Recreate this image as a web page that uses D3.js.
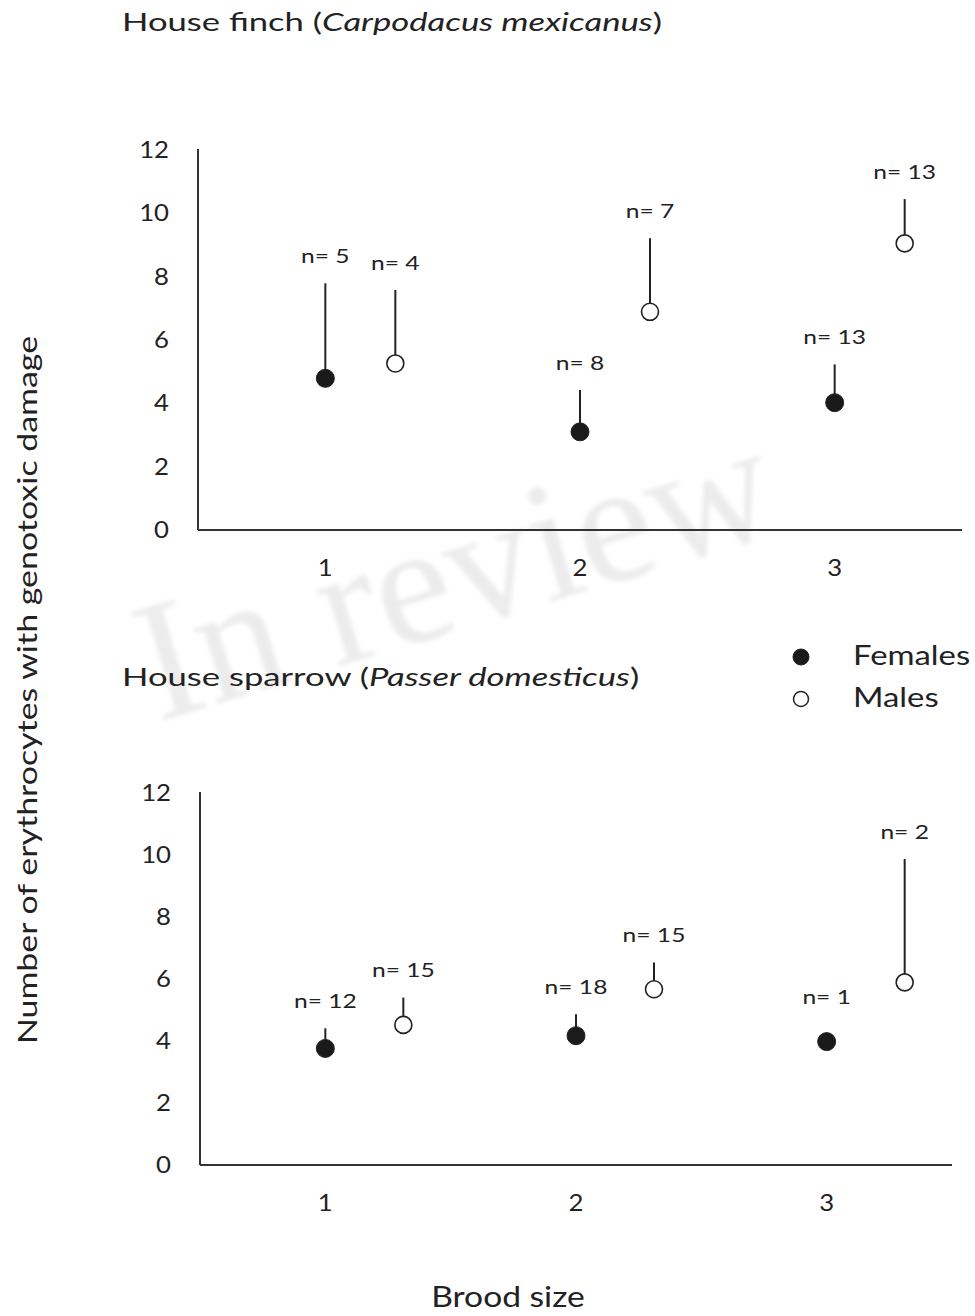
<!DOCTYPE html>
<html>
<head>
<meta charset="utf-8">
<script src="https://cdn.jsdelivr.net/npm/d3@7"></script>
<style>
  html, body { margin: 0; padding: 0; background: #fff; }
  svg { display: block; }
  text { font-family: Lato, "Open Sans", sans-serif; fill: #222; }
</style>
</head>
<body>
<div id="chart"></div>
<script>
// Brood size categories shared by both species
const broodSizes = ["1", "2", "3"];
const yTicks = [0, 2, 4, 6, 8, 10, 12];

// House finch: means and upper whisker ends, by brood size
const finchFemaleMean = [4.79, 3.10, 4.02];
const finchFemaleUpper = [7.79, 4.42, 5.23];
const finchFemaleN = [5, 8, 13];
const finchMaleMean = [5.26, 6.89, 9.05];
const finchMaleUpper = [7.58, 9.21, 10.45];
const finchMaleN = [4, 7, 13];

// House sparrow: means and upper whisker ends, by brood size
const sparrowFemaleMean = [3.76, 4.17, 3.98];
const sparrowFemaleUpper = [4.41, 4.86, 3.98];
const sparrowFemaleN = [12, 18, 1];
const sparrowMaleMean = [4.52, 5.67, 5.89];
const sparrowMaleUpper = [5.40, 6.53, 9.87];
const sparrowMaleN = [15, 15, 2];

const W = 975, H = 1316;
const svg = d3.select("#chart").append("svg")
  .attr("width", W).attr("height", H);

// the typeface runs wide, so text is drawn horizontally stretched
function wideText(parent, x, y, k, size) {
  return parent.append("g")
    .attr("transform", `translate(${x},${y}) scale(${k},1)`)
    .append("text")
    .style("font-size", size + "px");
}

// faint "In review" stamp behind everything
const defs = svg.append("defs");
defs.append("filter").attr("id", "soft")
  .append("feGaussianBlur").attr("stdDeviation", 2);
svg.append("text")
  .attr("transform", "translate(158,722) rotate(-17)")
  .attr("filter", "url(#soft)")
  .style("font-family", "'Liberation Serif', 'DejaVu Serif', serif")
  .style("font-size", "172px")
  .style("fill", "#ececec")
  .text("In review");

function panel(opts) {
  const g = svg.append("g");
  const x = d3.scaleBand().domain(broodSizes).range([opts.left, opts.right]).padding(0);
  const y = d3.scaleLinear().domain([0, 12]).range([opts.bottom, opts.top]);

  // title with italic species name
  const t = wideText(g, 122, opts.titleY, 1.385, 25);
  t.append("tspan").text(opts.common + " (");
  t.append("tspan").style("font-style", "italic").text(opts.latin);
  t.append("tspan").text(")");

  // y axis (line + labels only)
  const yAxis = d3.axisLeft(y).tickValues(yTicks).tickSize(0).tickPadding(0);
  const ya = g.append("g").attr("transform", `translate(${opts.labelRight},0)`).call(yAxis);
  ya.select(".domain").remove();
  ya.selectAll("text")
    .attr("transform", "scale(1.12,1)")
    .style("font-size", "23px").style("font-family", "Lato, sans-serif").attr("fill", "#222");
  g.append("line")
    .attr("x1", opts.left).attr("x2", opts.left)
    .attr("y1", y(12) - 1).attr("y2", y(0))
    .attr("stroke", "#333").attr("stroke-width", 2);

  // x axis
  const xAxis = d3.axisBottom(x).tickSize(0).tickPadding(0);
  const xa = g.append("g").attr("transform", `translate(0,${opts.bottom})`).call(xAxis);
  xa.select(".domain").remove();
  xa.selectAll("text").attr("dy", "1.15em").attr("y", 20)
    .attr("transform", "scale(1.12,1)")
    .style("font-size", "23px").style("font-family", "Lato, sans-serif").attr("fill", "#222");
  g.append("line")
    .attr("x1", opts.left).attr("x2", opts.right)
    .attr("y1", y(0)).attr("y2", y(0))
    .attr("stroke", "#333").attr("stroke-width", 2);

  const center = d => x(d) + x.bandwidth() / 2;
  const series = [
    { mean: opts.fMean, upper: opts.fUpper, n: opts.fN, dx: 0, filled: true },
    { mean: opts.mMean, upper: opts.mUpper, n: opts.mN, dx: opts.maleShift, filled: false }
  ];

  series.forEach(s => {
    const pts = broodSizes.map((b, i) => ({
      cx: center(b) + s.dx, mean: s.mean[i], upper: s.upper[i], n: s.n[i]
    }));
    // upper whiskers
    g.selectAll(null).data(pts.filter(p => p.upper > p.mean)).enter().append("line")
      .attr("x1", p => p.cx).attr("x2", p => p.cx)
      .attr("y1", p => y(p.mean)).attr("y2", p => y(p.upper))
      .attr("stroke", "#222").attr("stroke-width", 2);
    // markers
    g.selectAll(null).data(pts).enter().append("circle")
      .attr("cx", p => p.cx).attr("cy", p => y(p.mean))
      .attr("r", s.filled ? 9 : 8.5)
      .attr("fill", s.filled ? "#1a1a1a" : "#fff")
      .attr("stroke", "#222").attr("stroke-width", s.filled ? 1 : 1.6);
    // sample sizes
    pts.forEach(p => {
      wideText(g, p.cx, y(p.upper) - (p.upper > p.mean ? 25 : 42), 1.33, 18.5)
        .attr("text-anchor", "middle").attr("dominant-baseline", "middle")
        .text("n= " + p.n);
    });
  });
}

panel({
  common: "House finch", latin: "Carpodacus mexicanus", titleY: 31,
  left: 198, right: 962, top: 150, bottom: 530, labelRight: 169, maleShift: 70,
  fMean: finchFemaleMean, fUpper: finchFemaleUpper, fN: finchFemaleN,
  mMean: finchMaleMean, mUpper: finchMaleUpper, mN: finchMaleN
});

panel({
  common: "House sparrow", latin: "Passer domesticus", titleY: 686,
  left: 200, right: 952, top: 793, bottom: 1165, labelRight: 171, maleShift: 78,
  fMean: sparrowFemaleMean, fUpper: sparrowFemaleUpper, fN: sparrowFemaleN,
  mMean: sparrowMaleMean, mUpper: sparrowMaleUpper, mN: sparrowMaleN
});

// legend
const legendItems = [
  { label: "Females", filled: true },
  { label: "Males", filled: false }
];
const lg = svg.append("g");
legendItems.forEach((d, i) => {
  const cy = 657 + i * 42;
  lg.append("circle").attr("cx", 801).attr("cy", cy)
    .attr("r", d.filled ? 8 : 7.5)
    .attr("fill", d.filled ? "#1a1a1a" : "#fff")
    .attr("stroke", "#222").attr("stroke-width", d.filled ? 1 : 1.5);
  wideText(lg, 853, cy + 1, 1.24, 26.5)
    .attr("dominant-baseline", "middle")
    .text(d.label);
});

// shared axis titles
svg.append("g")
  .attr("transform", "translate(37,690) rotate(-90) scale(1.28,1)")
  .append("text")
  .attr("text-anchor", "middle")
  .style("font-size", "26.5px")
  .text("Number of erythrocytes with genotoxic damage");

wideText(svg, 508, 1307, 1.2, 28)
  .attr("text-anchor", "middle")
  .text("Brood size");
</script>
</body>
</html>
